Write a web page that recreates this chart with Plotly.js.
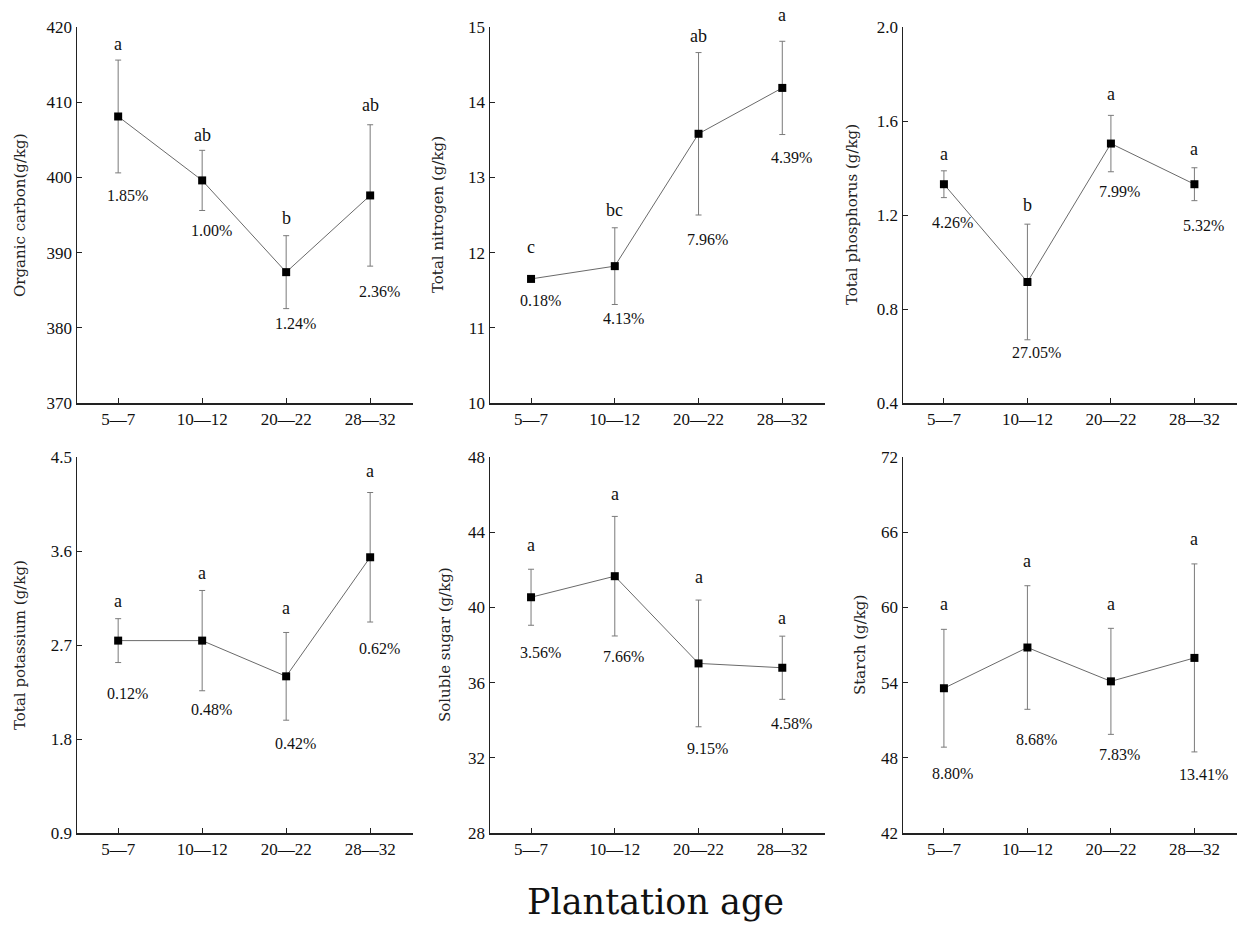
<!DOCTYPE html>
<html>
<head>
<meta charset="utf-8">
<script src="https://cdn.plot.ly/plotly-3.0.1.min.js"></script>
<style>html,body{margin:0;padding:0;background:#fff;}#chart{width:1238px;height:926px;}</style>
</head>
<body>
<div id="chart"></div>
<script>
// ---- data ----
const ages = ["5—7", "10—12", "20—22", "28—32"];

const organicCarbon = [408.1, 399.6, 387.4, 397.6];
const organicCarbonSD = [7.5, 4.0, 4.85, 9.4];
const organicCarbonLetters = ["a", "ab", "b", "ab"];
const organicCarbonCV = ["1.85%", "1.00%", "1.24%", "2.36%"];

const totalNitrogen = [11.65, 11.82, 13.58, 14.19];
const totalNitrogenSD = [0.02, 0.51, 1.08, 0.62];
const totalNitrogenLetters = ["c", "bc", "ab", "a"];
const totalNitrogenCV = ["0.18%", "4.13%", "7.96%", "4.39%"];

const totalPhosphorus = [1.331, 0.915, 1.504, 1.331];
const totalPhosphorusSD = [0.057, 0.246, 0.12, 0.07];
const totalPhosphorusLetters = ["a", "b", "a", "a"];
const totalPhosphorusCV = ["4.26%", "27.05%", "7.99%", "5.32%"];

const totalPotassium = [2.742, 2.742, 2.40, 3.54];
const totalPotassiumSD = [0.21, 0.48, 0.42, 0.62];
const totalPotassiumLetters = ["a", "a", "a", "a"];
const totalPotassiumCV = ["0.12%", "0.48%", "0.42%", "0.62%"];

const solubleSugar = [40.54, 41.66, 37.02, 36.79];
const solubleSugarSD = [1.49, 3.18, 3.37, 1.68];
const solubleSugarLetters = ["a", "a", "a", "a"];
const solubleSugarCV = ["3.56%", "7.66%", "9.15%", "4.58%"];

const starch = [53.55, 56.8, 54.1, 55.97];
const starchSD = [4.7, 4.93, 4.23, 7.5];
const starchLetters = ["a", "a", "a", "a"];
const starchCV = ["8.80%", "8.68%", "7.83%", "13.41%"];

// ---- panel set-up (layout / style) ----
const W = 1238, H = 926;
const panels = [
  {y: organicCarbon, sd: organicCarbonSD, letters: organicCarbonLetters, cv: organicCarbonCV,
   title: "Organic carbon(g/kg)", range: [370, 420], dtick: 10, fmt: "",
   x0: 77, x1: 413, top: 27, bot: 403, titleX: 20,
   letterOff: [16, 15, 18, 20], cvOff: [23, 20, 15, 25]},
  {y: totalNitrogen, sd: totalNitrogenSD, letters: totalNitrogenLetters, cv: totalNitrogenCV,
   title: "Total nitrogen (g/kg)", range: [10, 15], dtick: 1, fmt: "",
   x0: 490, x1: 825, top: 27, bot: 403, titleX: 438,
   letterOff: [30, 18, 17, 26], cvOff: [20, 14, 24, 23]},
  {y: totalPhosphorus, sd: totalPhosphorusSD, letters: totalPhosphorusLetters, cv: totalPhosphorusCV,
   title: "Total phosphorus (g/kg)", range: [0.4, 2.0], dtick: 0.4, fmt: ".1f",
   x0: 903, x1: 1237, top: 27, bot: 403, titleX: 852,
   letterOff: [17, 19, 21, 19], cvOff: [25, 13, 20, 25]},
  {y: totalPotassium, sd: totalPotassiumSD, letters: totalPotassiumLetters, cv: totalPotassiumCV,
   title: "Total potassium (g/kg)", range: [0.9, 4.5], dtick: 0.9, fmt: ".1f",
   x0: 77, x1: 413, top: 457, bot: 833, titleX: 20,
   letterOff: [18, 17, 24, 22], cvOff: [31, 19, 23, 26]},
  {y: solubleSugar, sd: solubleSugarSD, letters: solubleSugarLetters, cv: solubleSugarCV,
   title: "Soluble sugar (g/kg)", range: [28, 48], dtick: 4, fmt: "",
   x0: 490, x1: 825, top: 457, bot: 833, titleX: 445,
   letterOff: [24, 22, 23, 18], cvOff: [27, 21, 22, 24]},
  {y: starch, sd: starchSD, letters: starchLetters, cv: starchCV,
   title: "Starch (g/kg)", range: [42, 72], dtick: 6, fmt: "",
   x0: 903, x1: 1237, top: 457, bot: 833, titleX: 860,
   letterOff: [25, 25, 24, 25], cvOff: [26, 30, 20, 23]}
];

const SERIF = "Liberation Serif, Times New Roman, serif";
const TITLEFONT = "DejaVu Serif, Liberation Serif, serif";
const traces = [];
const layout = {
  width: W, height: H,
  margin: {l: 0, r: 0, t: 0, b: 0},
  paper_bgcolor: "#fff", plot_bgcolor: "#fff",
  showlegend: false,
  annotations: []
};

panels.forEach((p, i) => {
  const n = i + 1;
  const xa = "x" + (n === 1 ? "" : n), ya = "y" + (n === 1 ? "" : n);
  traces.push({
    type: "scatter", mode: "lines+markers",
    x: ages, y: p.y, xaxis: xa, yaxis: ya,
    line: {color: "#6a6a6a", width: 1},
    marker: {symbol: "square", size: 8, color: "#000"},
    error_y: {type: "data", array: p.sd, visible: true, color: "#7a7a7a", thickness: 1, width: 3},
    hoverinfo: "skip"
  });
  const axX = {
    domain: [p.x0 / W, p.x1 / W], anchor: ya,
    type: "category", range: [-0.49, 3.51],
    showline: true, linecolor: "#222", linewidth: 1.5,
    ticks: "inside", ticklen: 5, tickcolor: "#222", tickwidth: 1,
    showgrid: false, zeroline: false,
    tickfont: {family: SERIF, size: 17, color: "#111"}
  };
  const axY = {
    domain: [1 - p.bot / H, 1 - p.top / H], anchor: xa,
    range: p.range, dtick: p.dtick, tick0: p.range[0], tickformat: p.fmt,
    showline: true, linecolor: "#222", linewidth: 1.5,
    ticks: "inside", ticklen: 5, tickcolor: "#222", tickwidth: 1,
    showgrid: false, zeroline: false,
    tickfont: {family: SERIF, size: 17, color: "#111"}
  };
  layout["xaxis" + (n === 1 ? "" : n)] = axX;
  layout["yaxis" + (n === 1 ? "" : n)] = axY;

  // y-axis title
  layout.annotations.push({
    xref: "paper", yref: "paper",
    x: p.titleX / W, y: 1 - ((p.top + p.bot) / 2) / H,
    text: p.title, textangle: -90, showarrow: false,
    xanchor: "center", yanchor: "middle",
    font: {family: TITLEFONT, size: 15, color: "#222"}
  });

  ages.forEach((a, k) => {
    layout.annotations.push({
      xref: xa, yref: ya, x: a, y: p.y[k] + p.sd[k],
      yshift: p.letterOff[k], text: p.letters[k], showarrow: false,
      xanchor: "center", yanchor: "middle",
      font: {family: SERIF, size: 18, color: "#111"}
    });
    layout.annotations.push({
      xref: xa, yref: ya, x: a, y: p.y[k] - p.sd[k],
      yshift: -p.cvOff[k], xshift: 9, text: p.cv[k], showarrow: false,
      xanchor: "center", yanchor: "middle",
      font: {family: SERIF, size: 16, color: "#111"}
    });
  });
});

layout.annotations.push({
  xref: "paper", yref: "paper", x: 655 / W, y: 1 - 902 / H,
  text: "Plantation age", showarrow: false,
  xanchor: "center", yanchor: "middle",
  font: {family: TITLEFONT, size: 35, color: "#111"}
});

Plotly.newPlot("chart", traces, layout, {displayModeBar: false, staticPlot: true});
</script>
</body>
</html>
